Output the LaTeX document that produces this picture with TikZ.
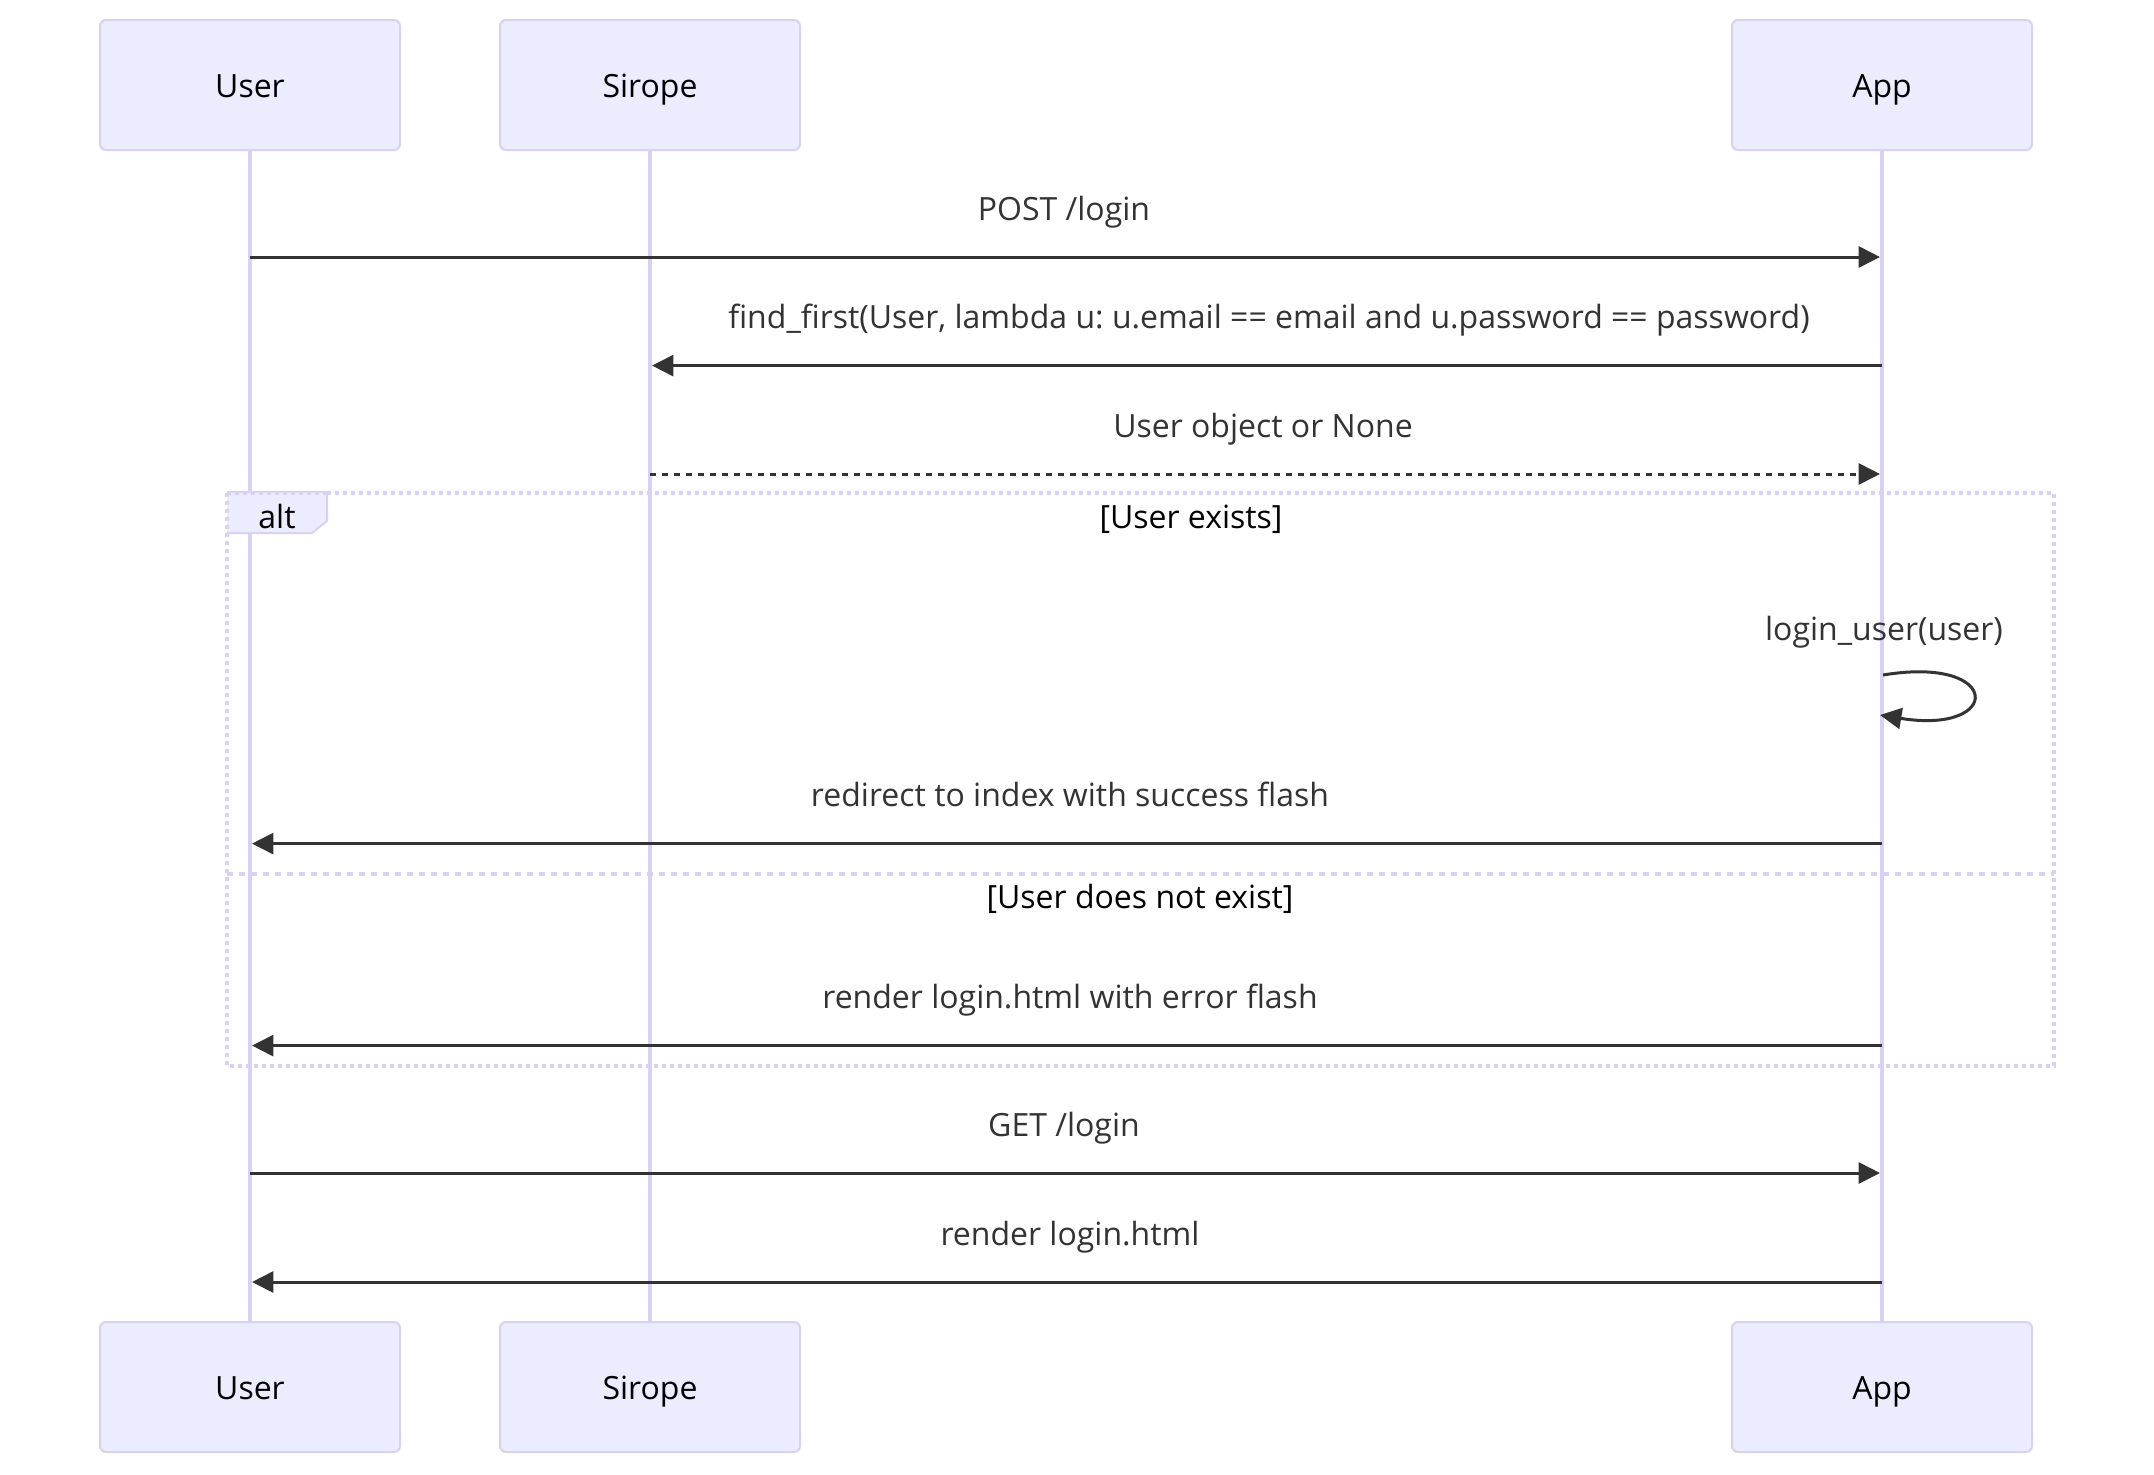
\documentclass[tikz,border=0pt]{standalone}
\usepackage{fontspec}
\setmainfont{Open Sans}
\usetikzlibrary{arrows.meta}
\definecolor{actfill}{HTML}{ECECFF}
\definecolor{actline}{HTML}{DAD0F3}
\definecolor{sig}{HTML}{333333}
\frenchspacing
\begin{document}
\begin{tikzpicture}[x=1pt,y=-1pt,
  actor/.style={draw=actline, fill=actfill, line width=1pt, rounded corners=3pt,
    minimum width=150pt, minimum height=65pt, inner sep=0pt,
    text height=16pt, text depth=3.6pt,
    font=\fontsize{16}{19}\selectfont, text=black},
  lifeline/.style={draw=actline, line width=1.6pt},
  msg/.style={draw=sig, line width=1.5pt, -{Triangle[length=10.7pt,width=10.5pt]}},
  dmsg/.style={msg, dash pattern=on 3pt off 3pt},
  mtext/.style={font=\fontsize{16}{19}\selectfont, text=sig, inner sep=0pt, anchor=base},
  ltext/.style={font=\fontsize{16}{19}\selectfont, text=black, inner sep=0pt, anchor=base},
  frameline/.style={draw=actline, line width=2pt, dash pattern=on 2pt off 2pt},
  sepline/.style={draw=actline, line width=2pt, dash pattern=on 3pt off 3pt},
  tabedge/.style={draw=actline, line width=1pt}]
\fill[white] (0,0) rectangle (1077,737);
\useasboundingbox (0,0) rectangle (1077,737);

% actors
\node[actor] (userT) at (125,42.5) {User};
\node[actor] (sirT) at (325,42.5) {Sirope};
\node[actor] (appT) at (941,42.5) {App};
\node[actor] (userB) at (125,693.5) {User};
\node[actor] (sirB) at (325,693.5) {Sirope};
\node[actor] (appB) at (941,693.5) {App};

% lifelines
\draw[lifeline] (userT.south) -- (userB.north);
\draw[lifeline] (sirT.south) -- (sirB.north);
\draw[lifeline] (appT.south) -- (appB.north);

% alt frame
\draw[frameline] (113.5,246.5) rectangle (1027,533);
\fill[actfill] (113.5,246.5) -- (163.5,246.5) -- (163.5,260.5) -- (156,266.5) -- (113.5,266.5) -- cycle;
\draw[tabedge] (113.5,266.5) -- (156,266.5) -- (163.5,260.5) -- (163.5,246.5);
\draw[frameline] (113.5,246.5) -- (163.5,246.5);
\draw[frameline] (113.5,246.5) -- (113.5,266.5);
\node[ltext] (altlbl) at (138.5,264) {alt};
\node[ltext] (cond1) at (595.5,264) {[User exists]};
\draw[sepline] (113.5,436.9) -- (1027,436.9);
\node[ltext] (cond2) at (570,454.4) {[User does not exist]};

% endpoint coordinates
\coordinate (u1) at (userT.south |- 0,128.5);
\coordinate (a1) at (appT.south |- 0,128.5);
\coordinate (a2) at (appT.south |- 0,182.8);
\coordinate (s2) at (sirT.south |- 0,182.8);
\coordinate (s3) at (sirT.south |- 0,237);
\coordinate (a3) at (appT.south |- 0,237);
\coordinate (a4) at (appT.south |- 0,337.5);
\coordinate (a4e) at (appT.south |- 0,357.5);
\coordinate (a5) at (appT.south |- 0,421.8);
\coordinate (u5) at (userT.south |- 0,421.8);
\coordinate (a6) at (appT.south |- 0,522.8);
\coordinate (u6) at (userT.south |- 0,522.8);
\coordinate (u7) at (userT.south |- 0,586.5);
\coordinate (a7) at (appT.south |- 0,586.5);
\coordinate (a8) at (appT.south |- 0,641);
\coordinate (u8) at (userT.south |- 0,641);

% messages
\node[mtext] (t1) at (532,110) {POST /login};
\draw[msg, shorten >=1pt] (u1) -- (a1);
\node[mtext] (t2) at (634.5,164.3) {find\_first(User, lambda u: u.email == email and u.password == password)};
\draw[msg, shorten >=1pt] (a2) -- (s2);
\node[mtext] (t3) at (631.5,218.5) {User object or None};
\draw[dmsg, shorten >=1pt] (s3) -- (a3);
\node[mtext] (t4) at (942,320) {login\_user(user)};
\draw[msg] ([xshift=0.5pt]a4) .. controls (1001.5,327.5) and (1001.5,367.5) .. ([xshift=-1pt]a4e);
\node[mtext] (t5) at (535,403.3) {redirect to index with success flash};
\draw[msg, shorten >=1pt] (a5) -- (u5);
\node[mtext] (t6) at (535,504.3) {render login.html with error flash};
\draw[msg, shorten >=1pt] (a6) -- (u6);
\node[mtext] (t7) at (532,568) {GET /login};
\draw[msg, shorten >=1pt] (u7) -- (a7);
\node[mtext] (t8) at (535,622.5) {render login.html};
\draw[msg, shorten >=1pt] (a8) -- (u8);
\end{tikzpicture}
\end{document}
